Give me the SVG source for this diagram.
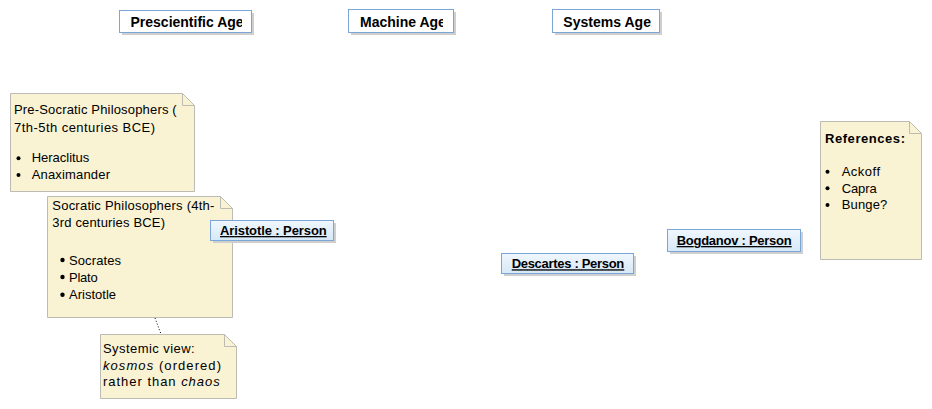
<svg xmlns="http://www.w3.org/2000/svg" width="932" height="409" viewBox="0 0 932 409">
<style>
.hdr{fill:#fff;stroke:#7ca6d8;stroke-width:1}
.shadow{fill:#cfcfcf}
.htxt{font-family:"Liberation Sans",Arial,sans-serif;font-size:14px;font-weight:bold;fill:#000}
.obj{fill:url(#objg);stroke:#7ca6d8;stroke-width:1}
.otxt{font-family:"Liberation Sans",Arial,sans-serif;font-size:13px;font-weight:bold;fill:#000;text-decoration:underline}
.note{fill:#f9f2d3;stroke:#bcbcb4;stroke-width:1}
.fold{fill:none;stroke:#bcbcb4;stroke-width:1}
.ntxt{font-family:"Liberation Sans",Arial,sans-serif;font-size:13px;fill:#000}
.conn{stroke:#000;stroke-width:1;stroke-dasharray:1,2;fill:none}
</style>
<defs>
<linearGradient id="objg" x1="0" y1="0" x2="0" y2="1">
<stop offset="0" stop-color="#f0f7fd"/>
<stop offset="1" stop-color="#d6e8f7"/>
</linearGradient>
<clipPath id="c1"><rect x="120" y="11" width="122" height="21"/></clipPath>
<clipPath id="c2"><rect x="349" y="10" width="94" height="22"/></clipPath>
</defs>
<rect width="932" height="409" fill="#fff"/>

<g id="connectors">
<line class="conn" x1="155" y1="318" x2="161" y2="334"/>
</g>

<g id="prescientific-age">
<rect class="shadow" x="122" y="13" width="132" height="22"/>
<rect class="hdr" x="119.5" y="10.5" width="132" height="22"/>
<text class="htxt" x="130.5" y="27" clip-path="url(#c1)">Prescientific Age</text>
</g>
<g id="machine-age">
<rect class="shadow" x="351" y="12" width="105" height="23"/>
<rect class="hdr" x="348.5" y="9.5" width="105" height="23"/>
<text class="htxt" x="360" y="26.7" clip-path="url(#c2)">Machine Age</text>
</g>
<g id="systems-age">
<rect class="shadow" x="555" y="12" width="107" height="23"/>
<rect class="hdr" x="552.5" y="9.5" width="107" height="23"/>
<text class="htxt" x="563.3" y="26.7" textLength="87.7">Systems Age</text>
</g>

<g id="pre-socratic-note">
<path class="note" d="M10.5 93.5 H182.5 L194.5 105.5 V191.5 H10.5 Z"/>
<path class="fold" d="M182.5 93.5 V105.5 H194.5"/>
<text class="ntxt" x="14" y="114" textLength="162.7">Pre-Socratic Philosophers (</text>
<text class="ntxt" x="14" y="132" textLength="141">7th-5th centuries BCE)</text>
<circle cx="18.5" cy="158.3" r="2"/>
<text class="ntxt" x="31.7" y="162" textLength="57.6">Heraclitus</text>
<circle cx="18.5" cy="175" r="2"/>
<text class="ntxt" x="31.7" y="179" textLength="78.3">Anaximander</text>
</g>

<g id="socratic-note">
<path class="note" d="M47.5 196.5 H220.5 L232.5 208.5 V317.5 H47.5 Z"/>
<path class="fold" d="M220.5 196.5 V208.5 H232.5"/>
<text class="ntxt" x="52.3" y="209.5" textLength="162">Socratic Philosophers (4th-</text>
<text class="ntxt" x="52.3" y="226.5" textLength="112.7">3rd centuries BCE)</text>
<circle cx="62.5" cy="260" r="2.2"/>
<text class="ntxt" x="69" y="265" textLength="52">Socrates</text>
<circle cx="62.5" cy="277" r="2.2"/>
<text class="ntxt" x="69" y="282" textLength="28.7">Plato</text>
<circle cx="62.5" cy="294.7" r="2.2"/>
<text class="ntxt" x="69" y="299" textLength="47">Aristotle</text>
</g>

<g id="systemic-view-note">
<path class="note" d="M100.5 334.5 H224.5 L236.5 346.5 V398.5 H100.5 Z"/>
<path class="fold" d="M224.5 334.5 V346.5 H236.5"/>
<text class="ntxt" x="103" y="353" textLength="91.7">Systemic view:</text>
<text class="ntxt" x="103" y="370" textLength="118"><tspan font-style="italic">kosmos</tspan> (ordered)</text>
<text class="ntxt" x="103" y="386" textLength="116.7">rather than <tspan font-style="italic">chaos</tspan></text>
</g>

<g id="aristotle">
<rect class="shadow" x="213" y="223" width="123" height="20"/>
<rect class="obj" x="210.5" y="220.5" width="123" height="20"/>
<text class="otxt" x="220" y="235" textLength="106.7">Aristotle : Person</text>
</g>

<g id="descartes">
<rect class="shadow" x="504" y="256" width="132" height="20"/>
<rect class="obj" x="501.5" y="253.5" width="132" height="20"/>
<text class="otxt" x="511.7" y="268.3" textLength="112.6">Descartes : Person</text>
</g>

<g id="bogdanov">
<rect class="shadow" x="670" y="232" width="133" height="22"/>
<rect class="obj" x="667.5" y="229.5" width="133" height="22"/>
<text class="otxt" x="676.7" y="245" textLength="115">Bogdanov : Person</text>
</g>

<g id="references-note">
<path class="note" d="M820.5 121.5 H909.5 L921.5 133.5 V259.5 H820.5 Z"/>
<path class="fold" d="M909.5 121.5 V133.5 H921.5"/>
<text class="ntxt" x="825" y="143" font-size="14" font-weight="bold" textLength="80">References:</text>
<circle cx="827.5" cy="171.7" r="2"/>
<text class="ntxt" x="841.7" y="176" textLength="38.3">Ackoff</text>
<circle cx="827.5" cy="188.3" r="2"/>
<text class="ntxt" x="841.7" y="192.5" textLength="35">Capra</text>
<circle cx="827.5" cy="205" r="2"/>
<text class="ntxt" x="841.7" y="209" textLength="45.6">Bunge?</text>
</g>
</svg>
